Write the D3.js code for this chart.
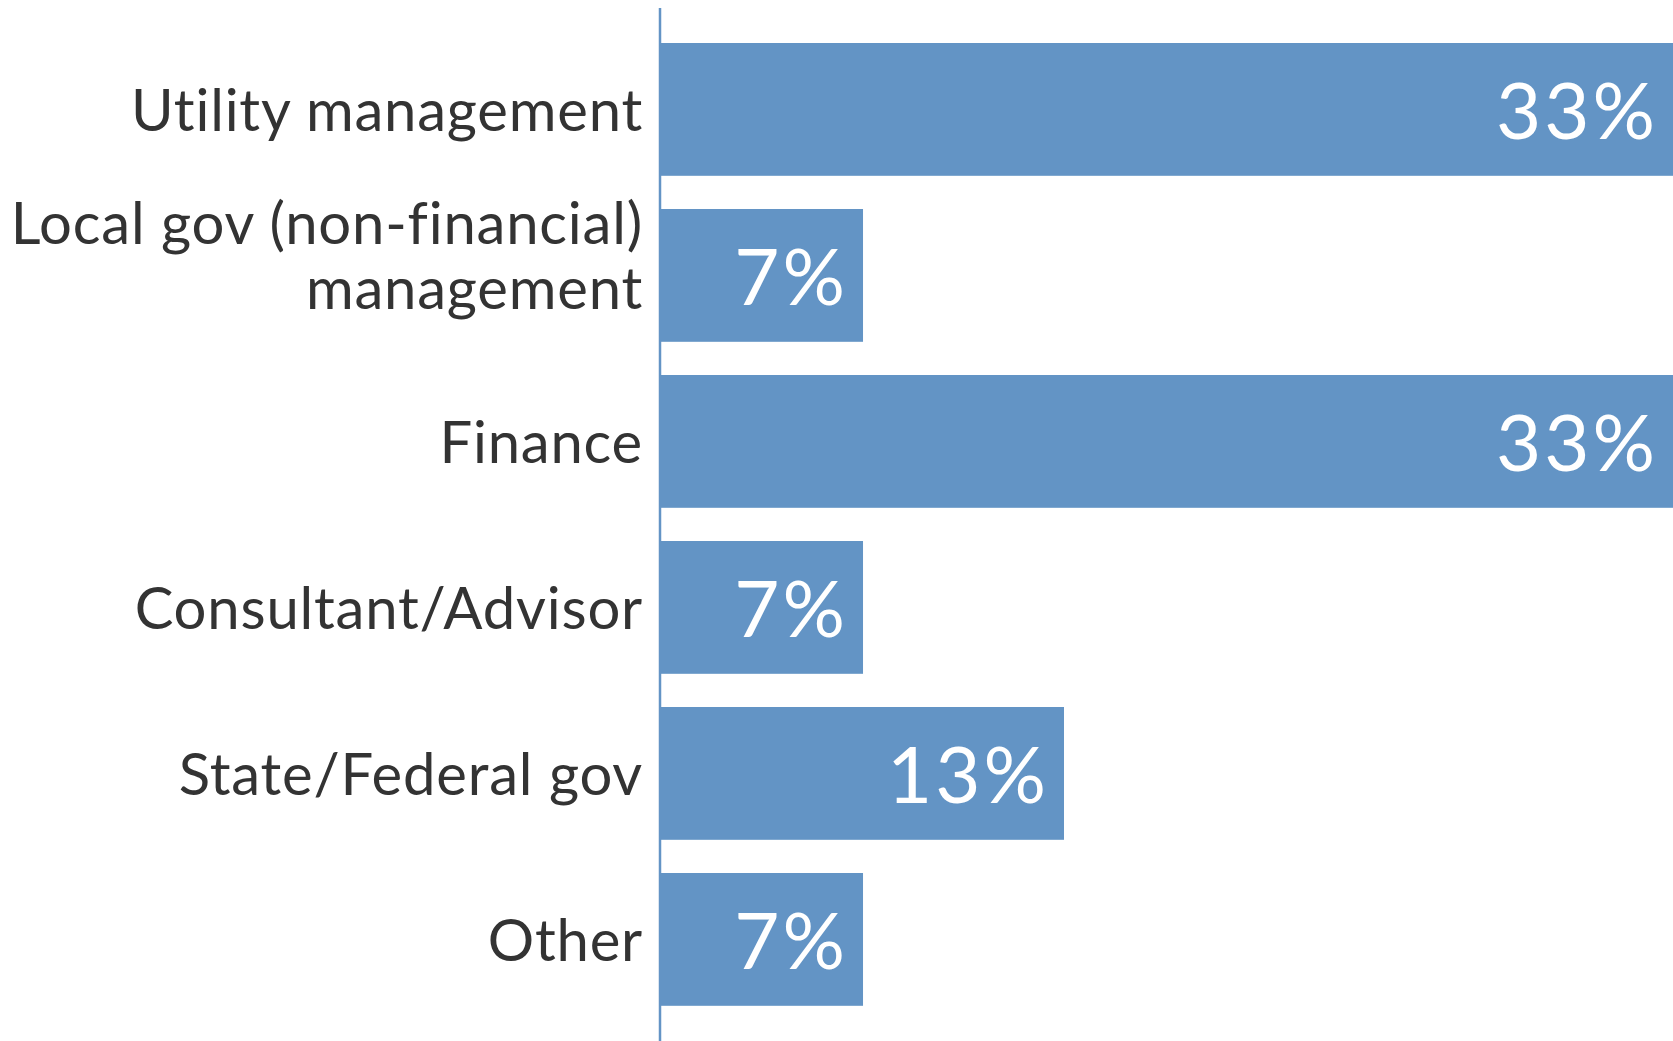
<!DOCTYPE html>
<html>
<head>
<meta charset="utf-8">
<script src="https://cdn.jsdelivr.net/npm/d3@7"></script>
<style>
  html, body { margin: 0; padding: 0; background: #fff; }
  svg { display: block; }
  text { font-variant-ligatures: none; font-feature-settings: "liga" 0; }
</style>
</head>
<body>
<div id="chart"></div>
<script>
// categories (top to bottom), multi-line labels split on "|"
var categories = ['Utility management', 'Local gov (non-financial)|management', 'Finance',
	'Consultant/Advisor', 'State/Federal gov', 'Other'];
var shares = [33.3, 6.7, 33.3, 6.7, 13.3, 6.7];

var w = 1673, h = 1041;
var barColor = '#6394c5';

const svg = d3.select('#chart')
	.append('svg')
	.attr('width', w)
	.attr('height', h);

var xScale = d3.scaleLinear()
	.domain([0, d3.max(shares)])
	.range([659, w]);

var yScale = d3.scaleBand()
	.domain(categories)
	.range([26.4, 1022.4])
	.paddingInner(0.2)
	.paddingOuter(0.1);

var rows = categories.map(function (c, i) { return [c, shares[i]]; });

svg.append('g').selectAll('rect').data(rows).enter()
	.append('rect')
	.attr('x', xScale(0))
	.attr('y', function (d) { return yScale(d[0]); })
	.attr('width', function (d) { return xScale(d[1]) - xScale(0); })
	.attr('height', yScale.bandwidth())
	.attr('fill', barColor);

// value labels inside bar ends
svg.append('g').selectAll('text').data(rows).enter()
	.append('text')
	.attr('x', function (d) { return xScale(d[1]) - 15; })
	.attr('y', function (d) { return yScale(d[0]) + yScale.bandwidth() / 2 + 30; })
	.attr('text-anchor', 'end')
	.attr('fill', '#fff')
	.style('font-family', 'Lato, sans-serif')
	.style('font-size', '78px')
	.style('letter-spacing', '3px')
	.text(function (d) { return d3.format('.0f')(d[1]) + '%'; });

// category labels
var labels = svg.append('g').selectAll('text').data(categories).enter()
	.append('text')
	.attr('text-anchor', 'end')
	.attr('fill', '#333')
	.style('font-family', 'Lato, sans-serif')
	.style('font-size', '58px')
	.style('letter-spacing', '0.8px');

labels.each(function (c) {
	var lines = c.split('|');
	var mid = yScale(c) + yScale.bandwidth() / 2;
	var el = d3.select(this);
	if (lines.length === 1) {
		el.append('tspan').attr('x', 643).attr('y', mid + 21.5).text(lines[0]);
	} else {
		el.append('tspan').attr('x', 643).attr('y', mid - 31).text(lines[0]);
		el.append('tspan').attr('x', 643).attr('y', mid + 34).text(lines[1]);
	}
});

// vertical axis line
svg.append('line')
	.attr('x1', 660).attr('x2', 660)
	.attr('y1', 8).attr('y2', h)
	.attr('stroke', barColor)
	.attr('stroke-width', 2.5);
</script>
</body>
</html>
